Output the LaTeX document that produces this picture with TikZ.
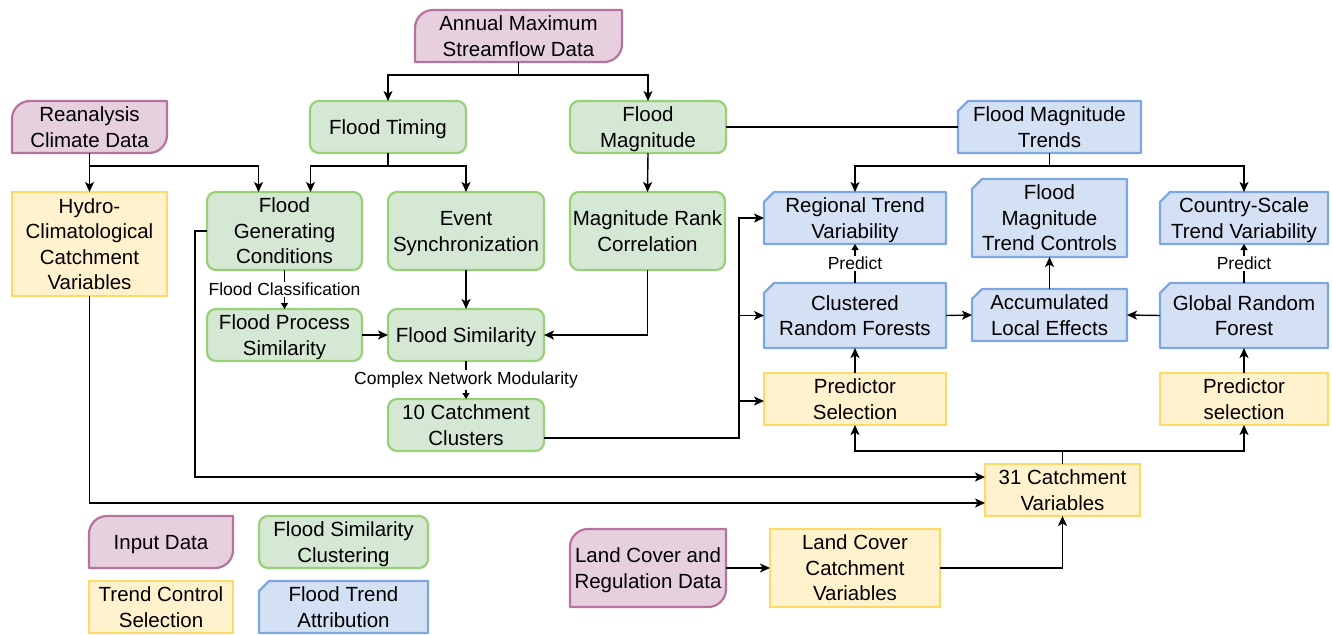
\documentclass[tikz,border=0pt]{standalone}
\usepackage{fontspec}
\setmainfont{Liberation Sans}
\usetikzlibrary{arrows.meta,calc,backgrounds}
\definecolor{pinkf}{HTML}{E6D0DE}
\definecolor{pinkd}{HTML}{B5739D}
\definecolor{greenf}{HTML}{D5E8D4}
\definecolor{greend}{HTML}{97D077}
\definecolor{yellf}{HTML}{FFF2CC}
\definecolor{yelld}{HTML}{FFD966}
\definecolor{bluef}{HTML}{D4E1F5}
\definecolor{blued}{HTML}{7EA6E0}
\newcommand\st{\rule[-5.4pt]{0pt}{25.5pt}}
\tikzset{
  base/.style={inner sep=0pt, outer sep=0pt, align=center, font=\fontsize{20.5}{25.5}\selectfont},
  sz/.style 2 args={minimum width=#1pt, minimum height=#2pt},
  greenbox/.style={base, draw=greend, fill=greenf, line width=2.2pt, rounded corners=9pt},
  yellbox/.style={base, draw=yelld, fill=yellf, line width=2.2pt},
  pinkbox/.style={base},
  bluebox/.style={base},
  con/.style={line width=1.4pt, -{Stealth[length=10pt,width=9pt,inset=2.5pt]}},
  ln/.style={line width=1.4pt},
  sarr/.style={line width=1.2pt, -{Triangle[length=6pt,width=7pt]}},
  lbl/.style={fill=white, inner sep=1.5pt, font=\fontsize{17.5}{20}\selectfont},
}
\newcommand\pinkbg[1]{\filldraw[fill=pinkf,draw=pinkd,line width=2.2pt,line join=round]
  (#1.south west) -- ($(#1.north west)+(0,18)$)
  .. controls ($(#1.north west)+(0,8)$) and ($(#1.north west)+(8,0)$) .. ($(#1.north west)+(18,0)$)
  -- (#1.north east) -- ($(#1.south east)+(0,-18)$)
  .. controls ($(#1.south east)+(0,-8)$) and ($(#1.south east)+(-8,0)$) .. ($(#1.south east)+(-18,0)$) -- cycle;}
\newcommand\bluebg[1]{\filldraw[fill=bluef,draw=blued,line width=2.2pt,line join=round]
  (#1.south west) -- ($(#1.north west)+(0,10)$) -- ($(#1.north west)+(10,0)$)
  -- (#1.north east) -- (#1.south east) -- cycle;}
\begin{document}
\begin{tikzpicture}[x=1pt,y=-1pt]
\useasboundingbox (0,0) rectangle (1332,634);
% nodes
\node[pinkbox,sz={207}{52}] (ams) at (518.5,36) {\st Annual Maximum\\\st Streamflow Data};
\node[pinkbox,sz={155}{52}] (rcd) at (89.5,127) {\st Reanalysis\\\st Climate Data};
\node[greenbox,sz={156}{52}] (ft) at (388,127) {\st Flood Timing};
\node[greenbox,sz={156}{52}] (fm) at (648,127) {\st Flood\\\st Magnitude};
\node[bluebox,sz={183}{52}] (fmt) at (1049.5,127) {\st Flood Magnitude\\\st Trends};
\node[yellbox,sz={155}{104}] (hyd) at (89.5,244) {\st Hydro-\\\st Climatological\\\st Catchment\\\st Variables};
\node[greenbox,sz={155}{78}] (fgc) at (284.5,231) {\st Flood\\\st Generating\\\st Conditions};
\node[greenbox,sz={156}{78}] (es) at (466,231) {\st Event\\\st Synchronization};
\node[greenbox,sz={155}{78}] (mrc) at (647.5,231) {\st Magnitude Rank\\\st Correlation};
\node[bluebox,sz={182}{52}] (rtv) at (855,218) {\st Regional Trend\\\st Variability};
\node[bluebox,sz={155}{78}] (fmtc) at (1049.5,218) {\st Flood\\\st Magnitude\\\st Trend Controls};
\node[bluebox,sz={168}{52}] (cstv) at (1244,218) {\st Country-Scale\\\st Trend Variability};
\node[bluebox,sz={182}{65}] (crf) at (855,315.5) {\st Clustered\\\st Random Forests};
\node[bluebox,sz={155}{52}] (ale) at (1049.5,315) {\st Accumulated\\\st Local Effects};
\node[bluebox,sz={168}{65}] (grf) at (1244,315.5) {\st Global Random\\\st Forest};
\node[yellbox,sz={182}{52}] (ps1) at (855,399) {\st Predictor\\\st Selection};
\node[yellbox,sz={168}{52}] (ps2) at (1244,399) {\st Predictor\\\st selection};
\node[greenbox,sz={155}{52}] (fps) at (284.5,335) {\st Flood Process\\\st Similarity};
\node[greenbox,sz={156}{52}] (fs) at (466,335) {\st Flood Similarity};
\node[greenbox,sz={156}{52}] (cc) at (466,425) {\st 10 Catchment\\\st Clusters};
\node[yellbox,sz={155}{52}] (cv) at (1062.5,490) {\st 31 Catchment\\\st Variables};
\node[pinkbox,sz={156}{78}] (lcr) at (648,568) {\st Land Cover and\\\st Regulation Data};
\node[yellbox,sz={170}{78}] (lcv) at (855,568) {\st Land Cover\\\st Catchment\\\st Variables};
% legend
\node[pinkbox,sz={144}{52}] (leg1) at (161,542) {\st Input Data};
\node[greenbox,sz={169}{52}] (leg2) at (343.5,542) {\st Flood Similarity\\\st Clustering};
\node[yellbox,sz={144}{52}] (leg3) at (161,607) {\st Trend Control\\\st Selection};
\node[bluebox,sz={169}{52}] (leg4) at (343.5,607) {\st Flood Trend\\\st Attribution};
% backgrounds
\begin{scope}[on background layer]
\pinkbg{ams}\pinkbg{rcd}\pinkbg{lcr}\pinkbg{leg1}
\bluebg{fmt}\bluebg{rtv}\bluebg{fmtc}\bluebg{cstv}\bluebg{crf}\bluebg{ale}\bluebg{grf}\bluebg{leg4}
\end{scope}
% connectors
\draw[con] (ams.south) -- ++(0,13) -| (ft.north);
\draw[con] (ams.south) -- ++(0,13) -| (fm.north);
\draw[con] (rcd.south) -- (hyd.north);
\draw[con] (rcd.south) ++(0,13) -| ($(fgc.north)+(-26,0)$);
\draw[con] (ft.south) -- ++(0,13) -| ($(fgc.north)+(26,0)$);
\draw[con] (ft.south) -- ++(0,13) -| (es.north);
\draw[con] (fm.south) -- (mrc.north);
\draw[ln] (fm.east) -- (fmt.west);
\draw[con] (fmt.south) -- ++(0,13) -| (rtv.north);
\draw[con] (fmt.south) -- ++(0,13) -| (cstv.north);
\draw[sarr] (fgc.south) -- node[lbl]{Flood Classification} (fps.north);
\draw[con] (es.south) -- (fs.north);
\draw[con] (mrc.south) |- (fs.east);
\draw[con] (fps.east) -- (fs.west);
\draw[sarr] (fs.south) -- node[lbl]{Complex Network Modularity} (cc.north);
\coordinate (j) at (739,438);
\draw[con] ($(cc.east)+(0,13)$) -- (j) |- (rtv.west);
\draw[con] (j) |- (crf.west);
\draw[con] (j) |- ($(ps1.west)+(0,2)$);
\draw[con] (fgc.west) -- ++(-12,0) |- ($(cv.west)+(0,-13)$);
\draw[con] (hyd.south) |- ($(cv.west)+(0,13)$);
\draw[con] (cv.north) -- ++(0,-13) -| (ps1.south);
\draw[con] (cv.north) -- ++(0,-13) -| (ps2.south);
\draw[con] (ps1.north) -- (crf.south);
\draw[con] (ps2.north) -- (grf.south);
\draw[sarr] (crf.north) -- node[lbl]{Predict} (rtv.south);
\draw[sarr] (grf.north) -- node[lbl]{Predict} (cstv.south);
\draw[con] (crf.east) -- (ale.west);
\draw[con] (grf.west) -- (ale.east);
\draw[con] (ale.north) -- (fmtc.south);
\draw[con] (lcr.east) -- (lcv.west);
\draw[con] (lcv.east) -| (cv.south);
\end{tikzpicture}
\end{document}
